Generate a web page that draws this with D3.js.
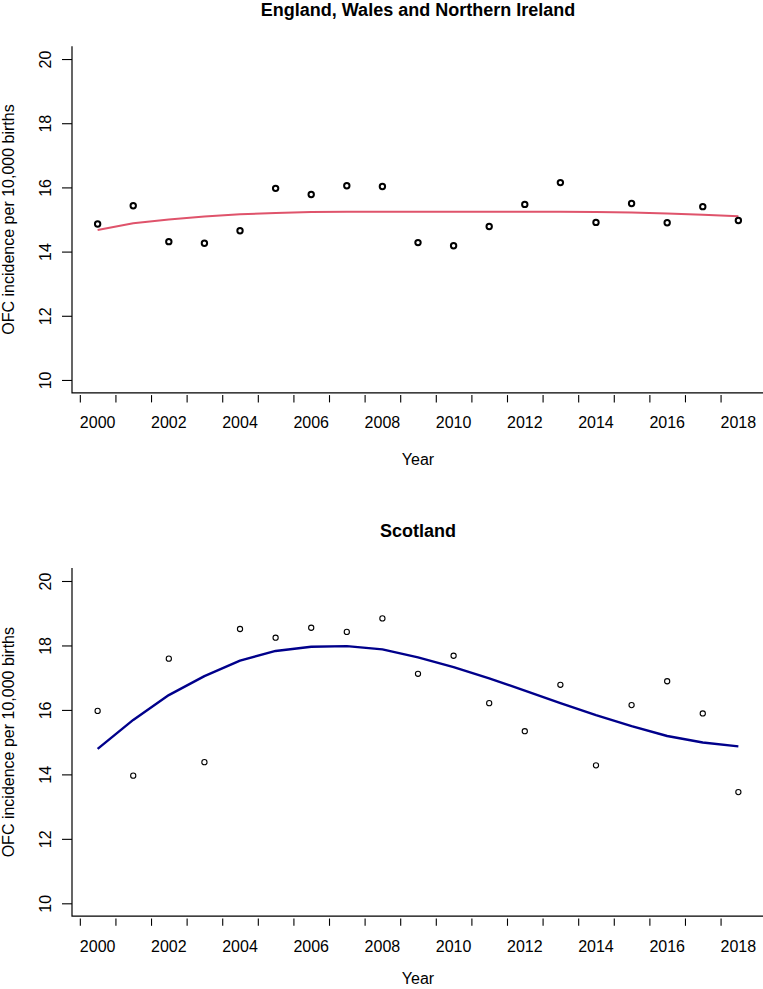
<!DOCTYPE html>
<html>
<head>
<meta charset="utf-8">
<script src="https://cdn.jsdelivr.net/npm/d3@7"></script>
<style>
  html, body { margin: 0; padding: 0; background: #fff; }
  svg { display: block; font-family: "Liberation Sans", Arial, Helvetica, sans-serif; }
</style>
</head>
<body>
<svg id="chart" width="763" height="989"></svg>
<script>
// ---- data ----
const years = [2000,2001,2002,2003,2004,2005,2006,2007,2008,2009,2010,2011,2012,2013,2014,2015,2016,2017,2018];
const ewniObserved = [14.86,15.43,14.31,14.26,14.65,15.97,15.78,16.05,16.03,14.28,14.18,14.78,15.47,16.15,14.91,15.50,14.90,15.40,14.97];
const ewniTrend    = [14.67,14.88,15.00,15.09,15.16,15.20,15.23,15.24,15.24,15.24,15.24,15.24,15.24,15.24,15.23,15.22,15.19,15.15,15.10];
const scotObserved = [15.97,13.96,17.59,14.38,18.51,18.24,18.55,18.42,18.84,17.12,17.68,16.21,15.34,16.78,14.28,16.15,16.89,15.89,13.45];
const scotTrend    = [14.79,15.69,16.46,17.05,17.53,17.83,17.96,17.98,17.88,17.63,17.33,16.98,16.60,16.21,15.84,15.50,15.19,14.99,14.87];
const yTicks = [10,12,14,16,18,20];
const xLabelYears = [2000,2002,2004,2006,2008,2010,2012,2014,2016,2018];
const xTickPositions = years.map(y => y - 0.5);
const titles = ["England, Wales and Northern Ireland", "Scotland"];
const yTitle = "OFC incidence per 10,000 births";
const xTitle = "Year";

const svg = d3.select("#chart");

function panel(cfg) {
  const x = d3.scaleLinear().domain([1999.28, 2018.72]).range([72, 764]);
  const y = d3.scaleLinear().domain([9.6, 20.4]).range([cfg.bottom, cfg.top]);
  const g = svg.append("g");

  // title
  g.append("text").attr("x", 418).attr("y", cfg.titleY)
    .attr("text-anchor", "middle").attr("font-weight", "bold").attr("font-size", 18)
    .text(cfg.title);

  // L-shaped frame
  g.append("path")
    .attr("d", `M${x.range()[0]},${cfg.top}V${cfg.bottom}H${x.range()[1]}`)
    .attr("fill", "none").attr("stroke", "#000").attr("stroke-width", 1.2);

  // y axis
  const ya = g.append("g").attr("transform", `translate(72,0)`)
    .call(d3.axisLeft(y).tickValues(yTicks).tickSize(10).tickPadding(0).tickFormat(d3.format("d")));
  ya.select(".domain").remove();
  ya.selectAll(".tick line").attr("stroke", "#000").attr("stroke-width", 1.1);
  ya.selectAll(".tick text")
    .attr("font-size", 16).attr("font-family", "Liberation Sans, Arial, sans-serif")
    .attr("fill", "#000")
    .attr("x", null).attr("dy", null)
    .attr("text-anchor", "middle")
    .attr("dominant-baseline", "central")
    .attr("transform", "translate(-27,0) rotate(-90)");

  // x axis ticks (between years)
  const xa = g.append("g").attr("transform", `translate(0,${cfg.bottom + 2.3})`)
    .call(d3.axisBottom(x).tickValues(xTickPositions).tickSize(7.3).tickFormat(""));
  xa.select(".domain").remove();
  xa.selectAll(".tick line").attr("stroke", "#000").attr("stroke-width", 1.1);

  // x labels at even years
  g.selectAll(".xl").data(xLabelYears).join("text")
    .attr("x", d => x(d)).attr("y", cfg.bottom + 30)
    .attr("text-anchor", "middle").attr("dominant-baseline", "central")
    .attr("font-size", 16).text(d => d);

  // axis titles
  g.append("text").attr("x", 418).attr("y", cfg.xTitleY)
    .attr("text-anchor", "middle").attr("dominant-baseline", "central")
    .attr("font-size", 16).text(xTitle);
  const ymid = (cfg.top + cfg.bottom) / 2;
  g.append("text").attr("transform", `translate(8,${ymid}) rotate(-90)`)
    .attr("text-anchor", "middle").attr("dominant-baseline", "central")
    .attr("font-size", 16).text(yTitle);

  // trend line
  const line = d3.line().x((d, i) => x(years[i])).y(d => y(d));
  g.append("path").datum(cfg.trend).attr("d", line)
    .attr("fill", "none").attr("stroke", cfg.lineColor).attr("stroke-width", cfg.lineWidth)
    .attr("stroke-linejoin", "round");

  // observed points
  g.selectAll(".pt").data(cfg.obs).join("circle")
    .attr("cx", (d, i) => x(years[i])).attr("cy", d => y(d))
    .attr("r", cfg.r).attr("fill", "none").attr("stroke", "#000").attr("stroke-width", cfg.pw);
}

panel({ title: titles[0], titleY: 16, top: 46.2, bottom: 392.8, xTitleY: 459, obs: ewniObserved, trend: ewniTrend,
        lineColor: "#DF536B", lineWidth: 2, r: 2.7, pw: 2 });
panel({ title: titles[1], titleY: 537, top: 568.1, bottom: 916.2, xTitleY: 978, obs: scotObserved, trend: scotTrend,
        lineColor: "#00008B", lineWidth: 2.4, r: 2.6, pw: 1.1 });
</script>
</body>
</html>
